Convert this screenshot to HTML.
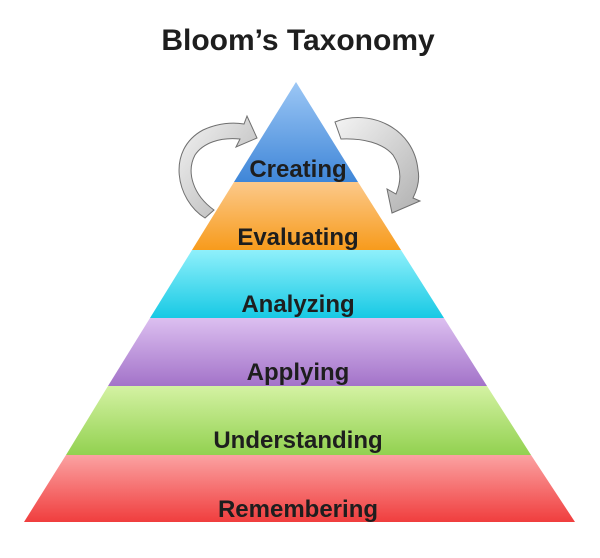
<!DOCTYPE html>
<html><head><style>
body{margin:0;background:#fff;}
svg{display:block;}
text{font-family:"Liberation Sans",sans-serif;font-weight:bold;fill:#1e1e1e;text-anchor:middle;}
</style></head><body>
<svg width="600" height="558" viewBox="0 0 600 558" xmlns="http://www.w3.org/2000/svg">
<defs>
<linearGradient id="g1" x1="0" y1="0" x2="0" y2="1"><stop offset="0" stop-color="#9cc7f5"/><stop offset="1" stop-color="#3f86d8"/></linearGradient>
<linearGradient id="g2" x1="0" y1="0" x2="0" y2="1"><stop offset="0" stop-color="#fcc98a"/><stop offset="1" stop-color="#f79b1c"/></linearGradient>
<linearGradient id="g3" x1="0" y1="0" x2="0" y2="1"><stop offset="0" stop-color="#8ff0fb"/><stop offset="1" stop-color="#17c9e4"/></linearGradient>
<linearGradient id="g4" x1="0" y1="0" x2="0" y2="1"><stop offset="0" stop-color="#dcbff0"/><stop offset="1" stop-color="#a373c9"/></linearGradient>
<linearGradient id="g5" x1="0" y1="0" x2="0" y2="1"><stop offset="0" stop-color="#d4f2a3"/><stop offset="1" stop-color="#92d150"/></linearGradient>
<linearGradient id="g6" x1="0" y1="0" x2="0" y2="1"><stop offset="0" stop-color="#fba2a2"/><stop offset="1" stop-color="#f03e3e"/></linearGradient>
<linearGradient id="ga" x1="0" y1="0" x2="1" y2="1"><stop offset="0" stop-color="#f4f4f4"/><stop offset="1" stop-color="#b0b0b0"/></linearGradient>
</defs>
<text x="298" y="50" font-size="30">Bloom’s Taxonomy</text>
<polygon points="296,82 358,182 234,182" fill="url(#g1)"/>
<polygon points="234,182 358,182 401,250 192,250" fill="url(#g2)"/>
<polygon points="192,250 401,250 444,318 150,318" fill="url(#g3)"/>
<polygon points="150,318 444,318 487,386 108,386" fill="url(#g4)"/>
<polygon points="108,386 487,386 531,455 66,455" fill="url(#g5)"/>
<polygon points="66,455 531,455 575,522 24,522" fill="url(#g6)"/>
<text x="298" y="177" font-size="24">Creating</text>
<text x="298" y="245" font-size="24">Evaluating</text>
<text x="298" y="312" font-size="24">Analyzing</text>
<text x="298" y="380" font-size="24">Applying</text>
<text x="298" y="448" font-size="24">Understanding</text>
<text x="298" y="517" font-size="24">Remembering</text>
<path d="M205,218 C176,200 166,150 203,130 C218,123 233,122 244,124 L247,116 L257,138 L236,147 L240,139 C220,137 203,143 195,155 C186,172 193,195 214,210 Z" fill="url(#ga)" stroke="#6f6f6f" stroke-width="1"/>
<path d="M335,122 C370,108 414,128 418,170 C420,180 417,190 413,198 L420,201 L392,213 L387,189 L396,194 C402,180 401,167 393,155 C383,143 363,138 341,139 Z" fill="url(#ga)" stroke="#6f6f6f" stroke-width="1"/>
</svg>
</body></html>
